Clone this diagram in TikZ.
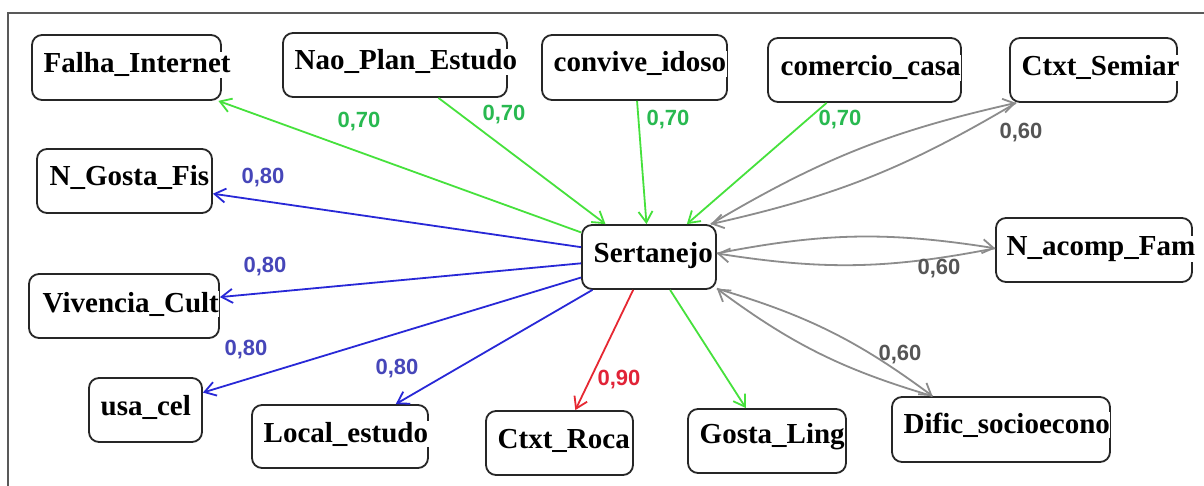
\documentclass[tikz,border=0pt]{standalone}
\usepackage{fontspec}
\setmainfont{Liberation Serif}
\newfontfamily\lblfont{Liberation Sans}
\usetikzlibrary{arrows.meta}
\definecolor{eg}{RGB}{70,225,60}
\definecolor{lg}{RGB}{40,185,80}
\definecolor{eb}{RGB}{40,40,215}
\definecolor{lb}{RGB}{70,70,185}
\definecolor{er}{RGB}{230,40,50}
\definecolor{lr}{RGB}{225,35,55}
\definecolor{egr}{RGB}{140,140,140}
\definecolor{lgr}{RGB}{85,85,85}
\begin{document}
\begin{tikzpicture}[x=1pt,y=1pt,
  box/.style={draw=black!85, line width=1.8pt, rounded corners=10pt, fill=white, inner sep=0pt},
  txt/.style={anchor=base west, fill=white, inner sep=0.5pt, font=\bfseries\fontsize{29}{32}\selectfont},
  lbl/.style={font=\lblfont\bfseries\fontsize{22}{24}\selectfont, inner sep=0pt},
  edge/.style={line width=1.8pt, -{Straight Barb[length=11pt,width=14pt]}}
]
\useasboundingbox (0,0) rectangle (1204,-486);
\fill[white] (0,0) rectangle (1204,-486);
\draw[black!65, line width=1.5pt] (8,-486) -- (8,-13) -- (1204,-13);

% boxes
\node[box, minimum width=189pt, minimum height=65pt] (falha) at (126.5,-67.5) {};
\node[box, minimum width=224pt, minimum height=64pt] (nao) at (395,-65) {};
\node[box, minimum width=185pt, minimum height=65pt] (convive) at (634.5,-67.5) {};
\node[box, minimum width=193pt, minimum height=64pt] (comercio) at (864.5,-70) {};
\node[box, minimum width=167pt, minimum height=64pt] (semiar) at (1093.5,-70) {};
\node[box, minimum width=175pt, minimum height=64pt] (ngosta) at (124.5,-181) {};
\node[box, minimum width=190pt, minimum height=64pt] (viv) at (124,-306) {};
\node[box, minimum width=113pt, minimum height=64pt] (usa) at (145.5,-410) {};
\node[box, minimum width=176pt, minimum height=63pt] (local) at (340,-436.5) {};
\node[box, minimum width=147pt, minimum height=64pt] (roca) at (559.5,-443) {};
\node[box, minimum width=158pt, minimum height=64pt] (gosta) at (767,-441) {};
\node[box, minimum width=218pt, minimum height=65pt] (dific) at (1001,-429.5) {};
\node[box, minimum width=196pt, minimum height=64pt] (nacomp) at (1094,-250) {};
\node[box, minimum width=134pt, minimum height=64pt] (sert) at (649,-257) {};

% texts
\node[txt] (falha-t) at (43,-73) {Falha\_Internet};
\node[txt] (nao-t) at (294,-70) {Nao\_Plan\_Estudo};
\node[txt] (convive-t) at (553,-72) {convive\_idoso};
\node[txt] (comercio-t) at (780,-76) {comercio\_casa};
\node[txt] (semiar-t) at (1021,-76) {Ctxt\_Semiar};
\node[txt] (ngosta-t) at (49,-186) {N\_Gosta\_Fis};
\node[txt] (viv-t) at (42,-312) {Vivencia\_Cult};
\node[txt] (usa-t) at (100,-415) {usa\_cel};
\node[txt] (local-t) at (263,-442) {Local\_estudo};
\node[txt] (roca-t) at (497,-448) {Ctxt\_Roca};
\node[txt] (gosta-t) at (699,-443) {Gosta\_Ling};
\node[txt] (dific-t) at (903,-433) {Dific\_socioecono};
\node[txt] (nacomp-t) at (1006,-255) {N\_acomp\_Fam};
\node[txt] (sert-t) at (593,-263) {Sertanejo};

% green
\draw[edge, eg] (sert) -- (falha);
\draw[edge, eg] (nao) -- (sert);
\draw[edge, eg] (convive) -- (sert);
\draw[edge, eg] (comercio) -- (sert);
\draw[edge, eg] (sert) -- (gosta);
% red
\draw[edge, er] (sert) -- (roca);
% blue
\draw[edge, eb] (sert) -- (ngosta);
\draw[edge, eb] (sert) -- (viv);
\draw[edge, eb] (sert) -- (usa);
\draw[edge, eb] (sert) -- (local);
% gray double
\draw[edge, egr] (sert.28) to[bend left=9] (semiar.203);
\draw[edge, egr] (semiar.203) to[bend left=9] (sert.28);
\draw[edge, egr] (sert.3) to[bend left=10] (nacomp.179);
\draw[edge, egr] (nacomp.179) to[bend left=10] (sert.3);
\draw[edge, egr] (sert.335) to[bend left=10] (dific.154);
\draw[edge, egr] (dific.154) to[bend left=10] (sert.335);

% labels
\node[lbl, lg] (l1) at (359,-122) {0,70};
\node[lbl, lg] (l2) at (504,-115) {0,70};
\node[lbl, lg] (l3) at (668,-120) {0,70};
\node[lbl, lg] (l4) at (840,-120) {0,70};
\node[lbl, lgr] (l5) at (1021,-133) {0,60};
\node[lbl, lgr] (l6) at (939,-269) {0,60};
\node[lbl, lgr] (l7) at (900,-355) {0,60};
\node[lbl, lb] (l8) at (263,-178) {0,80};
\node[lbl, lb] (l9) at (265,-267) {0,80};
\node[lbl, lb] (l10) at (246,-350) {0,80};
\node[lbl, lb] (l11) at (397,-369) {0,80};
\node[lbl, lr] (l12) at (619,-380) {0,90};
\end{tikzpicture}
\end{document}
